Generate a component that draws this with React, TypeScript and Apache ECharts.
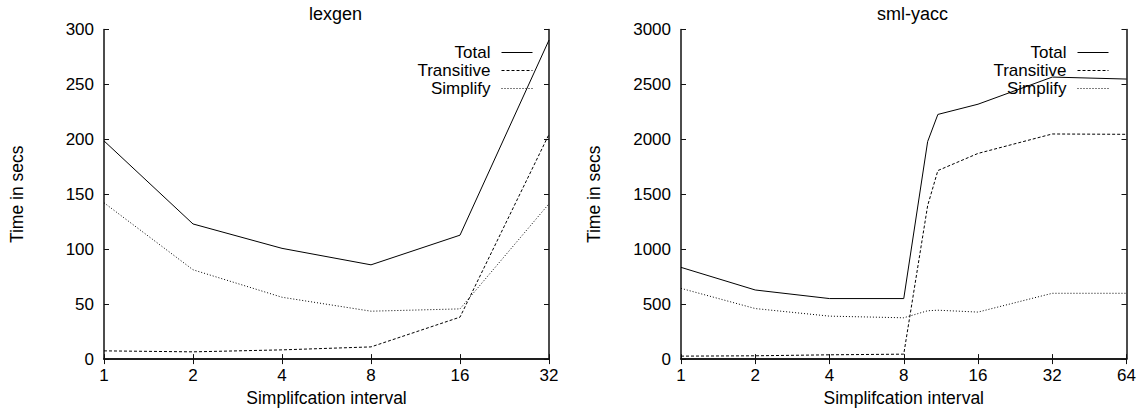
import React, { useEffect, useRef } from "react";
import * as echarts from "echarts";

// ---- data ----
const lexgenX = [1, 2, 4, 8, 16, 32];
const lexgenTotal = [198.6, 123, 100.8, 85.8, 112.8, 290.4];
const lexgenTransitive = [7.5, 6.6, 8.4, 11.1, 38.2, 204.6];
const lexgenSimplify = [142.3, 81.3, 56.3, 43.6, 45.7, 141.4];

const yaccX = [1, 2, 4, 8, 10, 11, 16, 32, 64];
const yaccTotal = [835, 629, 551, 551, 1980, 2227, 2320, 2567, 2549];
const yaccTransitive = [27, 30, 39, 45, 1397, 1716, 1872, 2049, 2046];
const yaccSimplify = [644, 460, 391, 376, 440, 445, 428, 599, 599];

const seriesNames = ["Total", "Transitive", "Simplify"];
const panelTitles = ["lexgen", "sml-yacc"];
const xAxisTitle = "Simplifcation interval";
const yAxisTitle = "Time in secs";

const FONT = "'Liberation Sans', Arial, Helvetica, sans-serif";
const BLACK = "#000";
const dashStyles: (string | number[])[] = ["solid", [3, 2], [1, 2]];

function pairs(xs: number[], ys: number[]) {
  return xs.map((x, i) => [x, ys[i]]);
}

function xAxisDef(gridIndex: number, max: number, splits: number, bottom: boolean) {
  return {
    type: "log",
    logBase: 2,
    gridIndex,
    min: 1,
    max,
    splitNumber: splits,
    position: bottom ? "bottom" : "top",
    name: bottom ? xAxisTitle : "",
    nameLocation: "middle",
    nameGap: 25,
    nameTextStyle: { fontFamily: FONT, fontSize: 17.5, color: BLACK },
    axisLine: { show: true, lineStyle: { color: "#111", width: 1.5 } },
    axisTick: { show: true, inside: true, length: 5, lineStyle: { color: "#111", width: 1 } },
    minorTick: { show: false },
    splitLine: { show: false },
    minorSplitLine: { show: false },
    axisLabel: {
      show: bottom,
      margin: 8,
      fontFamily: FONT,
      fontSize: 17,
      color: BLACK,
      formatter: (v: number) => String(Math.round(v)),
    },
  };
}

function yAxisDef(gridIndex: number, max: number, interval: number, left: boolean) {
  return {
    type: "value",
    gridIndex,
    min: 0,
    max,
    interval,
    position: left ? "left" : "right",
    name: left ? yAxisTitle : "",
    nameLocation: "middle",
    nameGap: 78,
    nameRotate: 90,
    nameTextStyle: { fontFamily: FONT, fontSize: 17.5, color: BLACK },
    axisLine: { show: true, lineStyle: { color: "#111", width: 1.5 } },
    axisTick: { show: true, inside: true, length: 5, lineStyle: { color: "#111", width: 1 } },
    splitLine: { show: false },
    axisLabel: {
      show: left,
      margin: 10,
      fontFamily: FONT,
      fontSize: 17,
      color: BLACK,
      formatter: (v: number) => String(v),
    },
  };
}

function lineSeries(name: string, idx: number, data: number[][], axisIdx: number) {
  return {
    type: "line",
    name,
    xAxisIndex: axisIdx,
    yAxisIndex: axisIdx,
    data,
    symbol: "none",
    showSymbol: false,
    color: BLACK,
    itemStyle: { color: BLACK },
    lineStyle: { color: BLACK, width: 1, type: dashStyles[idx] },
    emphasis: { disabled: true },
  };
}

function legendDef(right: number) {
  return {
    data: seriesNames,
    orient: "vertical",
    align: "right",
    right,
    top: 44,
    padding: 0,
    itemGap: 1,
    itemWidth: 31,
    itemHeight: 14,
    selectedMode: false,
    formatter: "{n|{name}}",
    textStyle: {
      fontFamily: FONT,
      fontSize: 17,
      color: BLACK,
      rich: { n: { fontFamily: FONT, fontSize: 17, color: BLACK, padding: [0, 6, 0, 0] } },
    },
    itemStyle: { opacity: 0 },
    lineStyle: { width: 1, color: BLACK },
  };
}

export default function App() {
  const ref = useRef<HTMLDivElement>(null);

  useEffect(() => {
    if (!ref.current) return;
    const chart = echarts.init(ref.current, undefined, { renderer: "svg" });
    const lexSets = [lexgenTotal, lexgenTransitive, lexgenSimplify];
    const yaccSets = [yaccTotal, yaccTransitive, yaccSimplify];
    const titleStyle = { fontFamily: FONT, fontSize: 18, fontWeight: "normal", color: BLACK };
    const option: any = {
      animation: false,
      backgroundColor: "#fff",
      title: [
        { text: panelTitles[0], left: 304, top: 0, textStyle: titleStyle },
        { text: panelTitles[1], left: 872, top: 0, textStyle: titleStyle },
      ],
      legend: [legendDef(607), legendDef(31)],
      grid: [
        { left: 104, top: 29.5, width: 445, height: 332.5 },
        { left: 681, top: 29.5, width: 445.5, height: 332 },
      ],
      xAxis: [
        xAxisDef(0, 32, 5, true),
        xAxisDef(0, 32, 5, false),
        xAxisDef(1, 64, 6, true),
        xAxisDef(1, 64, 6, false),
      ],
      yAxis: [
        yAxisDef(0, 300, 50, true),
        yAxisDef(0, 300, 50, false),
        yAxisDef(1, 3000, 500, true),
        yAxisDef(1, 3000, 500, false),
      ],
      series: [
        ...seriesNames.map((n, i) => lineSeries(n, i, pairs(lexgenX, lexSets[i]), 0)),
        ...seriesNames.map((n, i) => lineSeries(n, i, pairs(yaccX, yaccSets[i]), 2)),
      ],
    };
    chart.setOption(option);
    return () => chart.dispose();
  }, []);

  return (
    <div
      ref={ref}
      style={{ position: "absolute", left: 0, top: 0, width: 1140, height: 412, background: "#fff" }}
    />
  );
}
